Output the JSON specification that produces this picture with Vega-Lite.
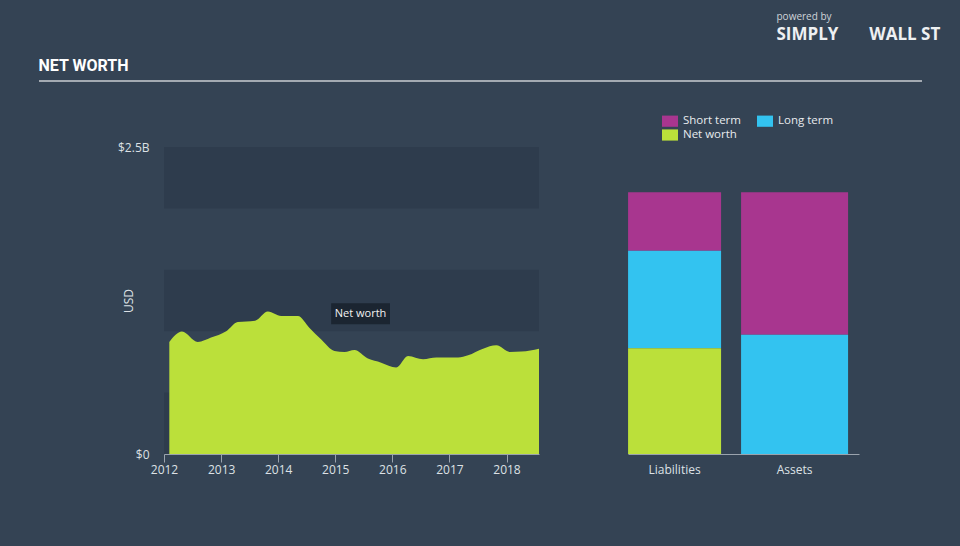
{
  "$schema": "https://vega.github.io/schema/vega-lite/v6.json",
  "background": "#344354",
  "padding": {"left": 38, "top": 11, "right": 20, "bottom": 73},
  "title": {
    "text": "powered by",
    "subtitle": "SIMPLY\u00a0\u00a0\u00a0\u00a0\u00a0\u00a0\u00a0WALL\u00a0ST",
    "anchor": "start",
    "dx": 738,
    "font": "Open Sans",
    "fontSize": 10,
    "fontWeight": "normal",
    "color": "#cfd4d9",
    "subtitleFont": "Open Sans",
    "subtitleFontSize": 17,
    "subtitleFontWeight": "bold",
    "subtitleColor": "#eef0f2",
    "subtitlePadding": 5,
    "offset": 15
  },
  "spacing": 31,
  "resolve": {"legend": {"color": "independent"}},
  "vconcat": [
    {
      "width": 883,
      "height": 2,
      "view": {"fill": "#a3aab2", "stroke": null},
      "title": {
        "text": "NET WORTH",
        "anchor": "start",
        "font": "Roboto",
        "fontSize": 16,
        "fontWeight": "bold",
        "color": "#ffffff",
        "offset": 6
      },
      "data": {"values": [{}]},
      "mark": {"type": "rule", "opacity": 0},
      "encoding": {}
    },
    {
      "resolve": {"legend": {"color": "independent"}},
      "hconcat": [
        {
          "width": 500,
          "height": 307,
          "layer": [
            {
              "data": {"values": [
                {"lo": 2.0, "hi": 2.5},
                {"lo": 1.0, "hi": 1.5},
                {"lo": 0.0, "hi": 0.5}
              ]},
              "mark": {"type": "rect", "color": "#2e3c4d"},
              "encoding": {
                "x": {"datum": {"year": 2012, "month": 1, "date": 1, "utc": true}, "type": "temporal"},
                "x2": {"datum": {"year": 2018, "month": 7, "date": 28, "utc": true}},
                "y": {
                  "field": "lo",
                  "type": "quantitative",
                  "scale": {"domain": [0, 2.5], "nice": false},
                  "axis": {
                    "values": [0, 2.5],
                    "labelExpr": "datum.value === 0 ? '$0' : '$2.5B'",
                    "domain": false,
                    "ticks": false,
                    "grid": false,
                    "offset": -125,
                    "labelPadding": 15,
                    "title": "USD",
                    "titleX": -29,
                    "titleFontWeight": "normal",
                    "titleFontSize": 12,
                    "labelFontSize": 12
                  }
                },
                "y2": {"field": "hi"}
              }
            },
            {
              "data": {"values": [
                {"date": "2012-02-04", "value": 0.912},
                {"date": "2012-04-25", "value": 0.997},
                {"date": "2012-08-04", "value": 0.912},
                {"date": "2012-10-28", "value": 0.948},
                {"date": "2013-02-02", "value": 1.000},
                {"date": "2013-04-17", "value": 1.075},
                {"date": "2013-08-06", "value": 1.086},
                {"date": "2013-10-27", "value": 1.160},
                {"date": "2014-01-20", "value": 1.124},
                {"date": "2014-05-07", "value": 1.124},
                {"date": "2014-07-19", "value": 1.029},
                {"date": "2014-10-02", "value": 0.934},
                {"date": "2014-12-27", "value": 0.839},
                {"date": "2015-03-01", "value": 0.831},
                {"date": "2015-05-04", "value": 0.847},
                {"date": "2015-07-29", "value": 0.777},
                {"date": "2015-10-22", "value": 0.744},
                {"date": "2016-01-26", "value": 0.704},
                {"date": "2016-04-11", "value": 0.798},
                {"date": "2016-07-16", "value": 0.771},
                {"date": "2016-10-09", "value": 0.785},
                {"date": "2017-02-25", "value": 0.785},
                {"date": "2017-04-30", "value": 0.804},
                {"date": "2017-08-04", "value": 0.858},
                {"date": "2017-10-28", "value": 0.885},
                {"date": "2018-01-22", "value": 0.831},
                {"date": "2018-04-07", "value": 0.834},
                {"date": "2018-07-28", "value": 0.858}
              ]},
              "mark": {"type": "area", "interpolate": "monotone", "color": "#bbe03a", "opacity": 1},
              "encoding": {
                "x": {
                  "field": "date",
                  "type": "temporal",
                  "scale": {
                    "type": "utc",
                    "range": [125, 500],
                    "domain": [
                      {"year": 2012, "month": 1, "date": 1, "utc": true},
                      {"year": 2018, "month": 7, "date": 28, "utc": true}
                    ]
                  },
                  "axis": {
                    "values": [
                      {"year": 2012, "month": 1, "date": 1, "utc": true},
                      {"year": 2013, "month": 1, "date": 1, "utc": true},
                      {"year": 2014, "month": 1, "date": 1, "utc": true},
                      {"year": 2015, "month": 1, "date": 1, "utc": true},
                      {"year": 2016, "month": 1, "date": 1, "utc": true},
                      {"year": 2017, "month": 1, "date": 1, "utc": true},
                      {"year": 2018, "month": 1, "date": 1, "utc": true}
                    ],
                    "format": "%Y",
                    "formatType": "utc",
                    "title": null,
                    "grid": false,
                    "tickSize": 8,
                    "labelPadding": 2,
                    "labelFlush": false,
                    "labelFontSize": 12
                  }
                },
                "y": {"field": "value", "type": "quantitative"}
              }
            },
            {
              "data": {"values": [{"date": "2015-06-12", "value": 1.142, "label": "Net worth"}]},
              "mark": {
                "type": "point",
                "shape": "M-1.4,-0.5L1.4,-0.5L1.4,0.5L-1.4,0.5Z",
                "size": 1764,
                "filled": true,
                "color": "#1b2531",
                "opacity": 1
              },
              "encoding": {
                "x": {"field": "date", "type": "temporal"},
                "y": {"field": "value", "type": "quantitative"}
              }
            },
            {
              "data": {"values": [{"date": "2015-06-12", "value": 1.142, "label": "Net worth"}]},
              "mark": {"type": "text", "color": "#f2f2f2", "fontSize": 11, "font": "Open Sans"},
              "encoding": {
                "x": {"field": "date", "type": "temporal"},
                "y": {"field": "value", "type": "quantitative"},
                "text": {"field": "label"}
              }
            }
          ]
        },
        {
          "width": 231,
          "height": 307,
          "data": {"values": [
            {"side": "Liabilities", "part": "Short term", "value": 0.476},
            {"side": "Liabilities", "part": "Long term", "value": 0.795},
            {"side": "Liabilities", "part": "Net worth", "value": 0.861},
            {"side": "Assets", "part": "Short term", "value": 1.160},
            {"side": "Assets", "part": "Long term", "value": 0.972}
          ]},
          "encoding": {
            "x": {
              "field": "side",
              "type": "nominal",
              "sort": ["Liabilities", "Assets"],
              "scale": {"paddingInner": 0.5, "paddingOuter": 0.2125, "align": 0.325},
              "axis": {
                "title": null,
                "labelAngle": 0,
                "ticks": false,
                "labelPadding": 10,
                "labelFontSize": 12
              }
            },
            "y": {
              "field": "value",
              "type": "quantitative",
              "stack": "zero",
              "scale": {"domain": [0, 2.5], "nice": false},
              "axis": null
            },
            "color": {
              "field": "part",
              "type": "nominal",
              "scale": {
                "domain": ["Short term", "Long term", "Net worth"],
                "range": ["#a8368f", "#33c3f0", "#bbe03a"]
              },
              "legend": {
                "orient": "none",
                "legendX": 34,
                "legendY": -34,
                "direction": "horizontal",
                "columns": 2,
                "title": null,
                "symbolType": "M-1,-0.7L1,-0.7L1,0.7L-1,0.7Z",
                "symbolSize": 256,
                "symbolStrokeWidth": 0,
                "symbolOpacity": 1,
                "labelColor": "#e8ebee",
                "labelFontSize": 11.5,
                "labelFont": "Open Sans",
                "labelOffset": 5,
                "columnPadding": 16,
                "rowPadding": 0,
                "padding": 0
              }
            }
          },
          "layer": [
            {
              "transform": [{"filter": "datum.side === 'Liabilities'"}],
              "mark": {"type": "bar", "width": 93},
              "encoding": {"order": {"field": "value", "type": "quantitative", "sort": "descending"}}
            },
            {
              "transform": [{"filter": "datum.side === 'Assets'"}],
              "mark": {"type": "bar", "width": 107},
              "encoding": {"order": {"field": "part", "type": "nominal", "sort": "ascending"}}
            }
          ]
        }
      ],
      "spacing": 89,
      "bounds": "flush"
    }
  ],
  "config": {
    "font": "Open Sans",
    "view": {"stroke": null},
    "axis": {
      "labelFont": "Open Sans",
      "titleFont": "Open Sans",
      "labelColor": "#dde1e5",
      "titleColor": "#dde1e5",
      "domainColor": "#9aa3ad",
      "tickColor": "#9aa3ad",
      "grid": false
    }
  }
}
